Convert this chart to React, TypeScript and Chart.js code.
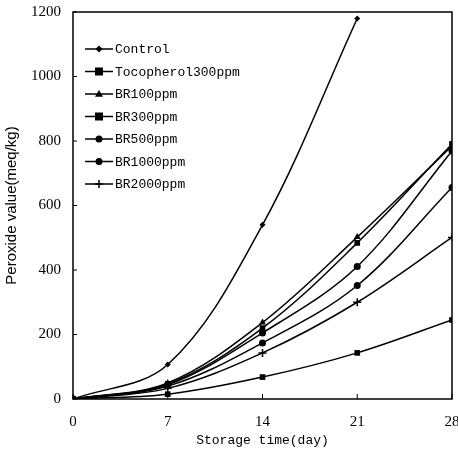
import React, { useEffect, useRef } from "react";
import { Chart, registerables } from "chart.js";

Chart.register(...registerables);

const days = [0, 7, 14, 21, 28];
const xTicks = [0, 7, 14, 21, 28];
const yTicks = [0, 200, 400, 600, 800, 1000, 1200];

const control = [0, 107, 540, 1180, null];
const tocopherol300 = [0, 15, 68, 143, 245];
const br100 = [0, 50, 237, 502, 785];
const br300 = [0, 47, 220, 484, 791];
const br500 = [0, 44, 205, 411, 769];
const br1000 = [0, 40, 174, 352, 656];
const br2000 = [0, 33, 143, 300, 501];

const seriesNames = [
  "Control",
  "Tocopherol300ppm",
  "BR100ppm",
  "BR300ppm",
  "BR500ppm",
  "BR1000ppm",
  "BR2000ppm",
];
const seriesValues = [control, tocopherol300, br100, br300, br500, br1000, br2000];
const seriesMarkers = ["rectRot", "rect", "triangle", "rect", "circle", "circle", "cross"];
const seriesMarkerSize = [3, 4, 4, 4, 3.5, 3.5, 4];

function drawMarker(ctx: CanvasRenderingContext2D, style: string, x: number, y: number, r: number) {
  ctx.fillStyle = "#000";
  ctx.strokeStyle = "#000";
  ctx.beginPath();
  if (style === "rect") {
    ctx.fillRect(x - r, y - r, 2 * r, 2 * r);
  } else if (style === "rectRot") {
    ctx.moveTo(x, y - r - 0.5);
    ctx.lineTo(x + r + 0.5, y);
    ctx.lineTo(x, y + r + 0.5);
    ctx.lineTo(x - r - 0.5, y);
    ctx.closePath();
    ctx.fill();
  } else if (style === "triangle") {
    ctx.moveTo(x, y - r);
    ctx.lineTo(x + r, y + r * 0.7);
    ctx.lineTo(x - r, y + r * 0.7);
    ctx.closePath();
    ctx.fill();
  } else if (style === "circle") {
    ctx.arc(x, y, r, 0, Math.PI * 2);
    ctx.fill();
  } else if (style === "cross") {
    ctx.lineWidth = 1.5;
    ctx.moveTo(x - r, y);
    ctx.lineTo(x + r, y);
    ctx.moveTo(x, y - r);
    ctx.lineTo(x, y + r);
    ctx.stroke();
  }
}

const frameAndLegend = {
  id: "frameAndLegend",
  afterDraw(chart: any) {
    const { ctx, chartArea } = chart;
    const xs = chart.scales.x;
    const ys = chart.scales.y;
    ctx.save();
    ctx.strokeStyle = "#000";
    ctx.lineWidth = 1.5;
    ctx.strokeRect(chartArea.left, chartArea.top, chartArea.right - chartArea.left, chartArea.bottom - chartArea.top);
    ctx.lineWidth = 1;
    xTicks.forEach((v) => {
      const px = xs.getPixelForValue(v);
      ctx.beginPath();
      ctx.moveTo(px, chartArea.bottom);
      ctx.lineTo(px, chartArea.bottom - 5);
      ctx.stroke();
    });
    yTicks.forEach((v) => {
      const py = ys.getPixelForValue(v);
      ctx.beginPath();
      ctx.moveTo(chartArea.left, py);
      ctx.lineTo(chartArea.left + 4, py);
      ctx.stroke();
    });
    const x0 = chartArea.left + 12;
    const y0 = chartArea.top + 37;
    const step = 22.5;
    ctx.font = "13px 'Liberation Mono'";
    ctx.textBaseline = "middle";
    seriesNames.forEach((name, i) => {
      const y = y0 + i * step;
      ctx.strokeStyle = "#000";
      ctx.lineWidth = 1.5;
      ctx.beginPath();
      ctx.moveTo(x0, y);
      ctx.lineTo(x0 + 28, y);
      ctx.stroke();
      drawMarker(ctx, seriesMarkers[i], x0 + 14, y, seriesMarkerSize[i]);
      ctx.fillStyle = "#000";
      ctx.fillText(name, x0 + 30, y + 1);
    });
    ctx.restore();
  },
};

export default function App() {
  const ref = useRef<HTMLCanvasElement | null>(null);
  useEffect(() => {
    document.body.style.margin = "0";
    const canvas = ref.current!;
    const datasets = seriesNames.map((name, i) => ({
      label: name,
      data: seriesValues[i].map((v, j) => ({ x: days[j], y: v })),
      borderColor: "#000",
      backgroundColor: "#000",
      borderWidth: 1.5,
      pointStyle: seriesMarkers[i] as any,
      pointRadius: seriesMarkerSize[i],
      pointBorderWidth: seriesMarkers[i] === "cross" ? 1.5 : 0,
      tension: 0.35,
      spanGaps: false,
    }));
    const chart = new Chart(canvas, {
      type: "line",
      data: { datasets: datasets as any },
      options: {
        animation: false,
        responsive: false,
        maintainAspectRatio: false,
        layout: { padding: { top: 12, right: 6, left: 0, bottom: 7 } },
        plugins: { legend: { display: false }, tooltip: { enabled: false } },
        scales: {
          x: {
            type: "linear",
            min: 0,
            max: 28,
            afterBuildTicks: (s: any) => {
              s.ticks = xTicks.map((v) => ({ value: v }));
            },
            ticks: {
              color: "#000",
              font: { family: "'Liberation Serif'", size: 15 },
              padding: 14,
              callback: (v: any) => String(v),
            },
            grid: { display: false, drawTicks: false },
            border: { display: false },
            title: {
              display: true,
              text: "Storage time(day)",
              color: "#000",
              font: { family: "'Liberation Mono'", size: 13 },
              padding: { top: 2 },
            },
            afterFit: (s: any) => {
              s.height = 53;
              s.paddingLeft = 0;
              s.paddingRight = 0;
            },
          },
          y: {
            type: "linear",
            min: 0,
            max: 1200,
            afterBuildTicks: (s: any) => {
              s.ticks = yTicks.map((v) => ({ value: v }));
            },
            ticks: {
              color: "#000",
              font: { family: "'Liberation Serif'", size: 15 },
              padding: 12,
              callback: (v: any) => String(v),
            },
            grid: { display: false, drawTicks: false },
            border: { display: false },
            title: {
              display: true,
              text: "Peroxide value(meq/kg)",
              color: "#000",
              font: { family: "'Liberation Sans'", size: 15 },
              padding: { top: 3, bottom: 0 },
            },
            afterFit: (s: any) => {
              s.width = 73;
              s.paddingTop = 0;
              s.paddingBottom = 0;
            },
          },
        },
      },
      plugins: [frameAndLegend],
    });
    return () => chart.destroy();
  }, []);
  return (
    <div style={{ position: "absolute", left: 0, top: 0, width: 458, height: 459, background: "#fff" }}>
      <canvas ref={ref} width={458} height={459} style={{ width: 458, height: 459 }} />
    </div>
  );
}
